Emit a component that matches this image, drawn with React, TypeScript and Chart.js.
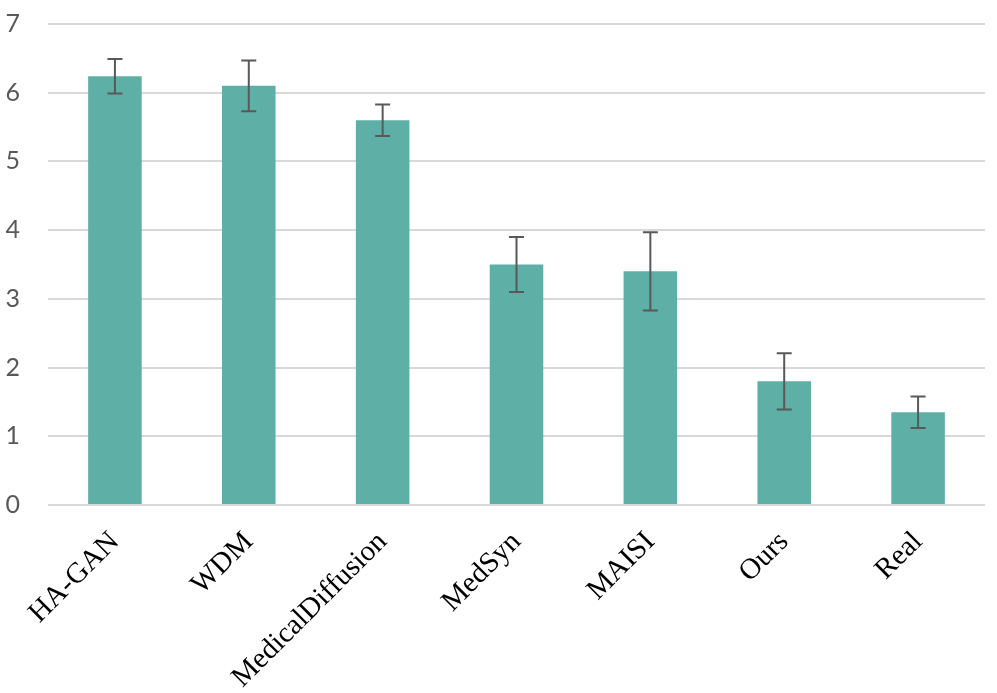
import React, { useEffect, useRef } from "react";
import { Chart, registerables } from "chart.js";

Chart.register(...registerables);

const categories = ["HA-GAN", "WDM", "MedicalDiffusion", "MedSyn", "MAISI", "Ours", "Real"];
const means = [6.24, 6.1, 5.6, 3.5, 3.4, 1.8, 1.35];
const errors = [0.25, 0.37, 0.23, 0.4, 0.57, 0.41, 0.23];
const yTicks = [0, 1, 2, 3, 4, 5, 6, 7];

const errorBarPlugin = {
  id: "errorBars",
  afterDatasetsDraw(chart: any) {
    const meta = chart.getDatasetMeta(0);
    const yScale = chart.scales.y;
    const ctx = chart.ctx;
    ctx.save();
    ctx.strokeStyle = "#595959";
    ctx.lineWidth = 2;
    meta.data.forEach((bar: any, i: number) => {
      const x = bar.x;
      const yHi = yScale.getPixelForValue(means[i] + errors[i]);
      const yLo = yScale.getPixelForValue(means[i] - errors[i]);
      const cap = 7.5;
      ctx.beginPath();
      ctx.moveTo(x, yHi);
      ctx.lineTo(x, yLo);
      ctx.moveTo(x - cap, yHi);
      ctx.lineTo(x + cap, yHi);
      ctx.moveTo(x - cap, yLo);
      ctx.lineTo(x + cap, yLo);
      ctx.stroke();
    });
    ctx.restore();
  },
};

export default function App() {
  const ref = useRef<HTMLCanvasElement>(null);
  useEffect(() => {
    if (!ref.current) return;
    const chart = new Chart(ref.current, {
      type: "bar",
      data: {
        labels: categories,
        datasets: [
          {
            data: means,
            backgroundColor: "#5EAFA5",
            borderWidth: 0,
            categoryPercentage: 1,
            barPercentage: 0.4,
          },
        ],
      },
      options: {
        animation: false,
        responsive: false,
        maintainAspectRatio: false,
        layout: { padding: { top: 24, left: 0, right: 12, bottom: 0 } },
        plugins: { legend: { display: false }, tooltip: { enabled: false } },
        scales: {
          x: {
            grid: { display: false },
            border: { display: false },
            ticks: {
              color: "#000000",
              font: { family: "'Liberation Serif', 'Times New Roman', serif", size: 29 },
              minRotation: 45,
              maxRotation: 45,
              padding: 12,
              autoSkip: false,
            },
            afterFit(scale: any) {
              scale.height = 188;
              scale.paddingLeft = 0;
              scale.paddingRight = 0;
            },
          },
          y: {
            min: 0,
            max: 7,
            afterBuildTicks(scale: any) {
              scale.ticks = yTicks.map((v) => ({ value: v }));
            },
            grid: { color: "#d9d9d9", lineWidth: 2, drawTicks: false },
            border: { display: false },
            ticks: {
              color: "#595959",
              font: { family: "Lato, 'Open Sans', sans-serif", size: 25 },
              padding: 28,
            },
            afterFit(scale: any) {
              scale.width = 48;
              scale.paddingTop = 0;
              scale.paddingBottom = 0;
            },
          },
        },
      },
      plugins: [errorBarPlugin],
    });
    return () => chart.destroy();
  }, []);
  return (
    <div style={{ position: "fixed", left: 0, top: 0, width: 997, height: 693, background: "#fff" }}>
      <canvas ref={ref} width={997} height={693} />
    </div>
  );
}
